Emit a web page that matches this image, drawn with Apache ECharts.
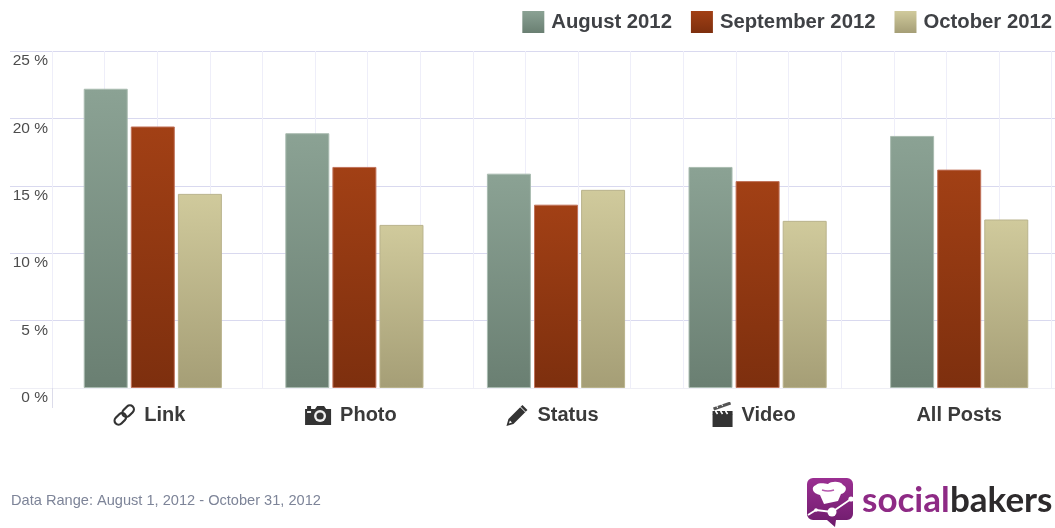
<!DOCTYPE html>
<html><head><meta charset="utf-8">
<style>html,body{margin:0;padding:0;background:#fff;overflow:hidden}#c{width:1055px;height:528px}</style>
<script src="https://cdn.jsdelivr.net/npm/echarts@6/dist/echarts.min.js"></script></head>
<body><div id="c"></div>
<script>
var categories = ['Link','Photo','Status','Video','All Posts'];
var august = [22.2,18.9,15.9,16.4,18.7];
var september = [19.4,16.4,13.6,15.35,16.2];
var october = [14.4,12.1,14.7,12.4,12.5];
var seriesNames = ['August 2012','September 2012','October 2012'];

function svg(w,h,body){return 'data:image/svg+xml;utf8,'+encodeURIComponent('<svg xmlns="http://www.w3.org/2000/svg" width="'+w+'" height="'+h+'" viewBox="0 0 '+w+' '+h+'">'+body+'</svg>');}
var icons = {
 Link: svg(24,24,'<g fill="none" stroke="#333" stroke-width="2.2" transform="rotate(-45 12 12)"><rect x="0" y="8" width="13" height="8" rx="4"/><rect x="11" y="8" width="13" height="8" rx="4"/></g>'),
 Photo: svg(28,24,'<path fill="#333" d="M1 6h2V3h4v3h4l2-3h7l2 3h5v16H1z"/><circle cx="16" cy="13" r="6" fill="#eee"/><circle cx="16" cy="13" r="3.6" fill="#333"/><rect x="3" y="8" width="4" height="2" fill="#eee"/>'),
 Status: svg(24,24,'<path fill="#333" d="M1 23l2-7L17 2l5 5L8 21z"/><path fill="#fff" d="M3.5 20.5l1-3 2 2z"/><path stroke="#fff" stroke-width="1" d="M15 4l5 5"/>'),
 Video: svg(22,26,'<rect x="1" y="12" width="20" height="13" fill="#333"/><rect x="1" y="9" width="20" height="3.4" fill="#333"/><path stroke="#fff" stroke-width="1.6" d="M4 9l2 3M9 9l2 3M14 9l2 3"/><path stroke="#555" stroke-width="3" d="M2 7L19 1"/><path stroke="#fff" stroke-width="1" d="M6 6l-1-3M11 4L10 2"/>')
};
var logo = svg(47,50,'<defs><linearGradient id="g" x1="0" y1="0" x2="0" y2="1"><stop offset="0" stop-color="#9b2f92"/><stop offset="1" stop-color="#6d1b6b"/></linearGradient></defs><path fill="url(#g)" d="M6 0h34a6 6 0 0 1 6 6v30a6 6 0 0 1-6 6H29l-1 7-8-7H6a6 6 0 0 1-6-6V6a6 6 0 0 1 6-6z"/><path fill="#fff" d="M13 17C6 16 3 9 9 7c4-3 9-1 12-1 3-3 13-3 15 1 5 2 3 8-2 9l-3 7-14 3z"/><path stroke="#b65aae" stroke-width="1.4" fill="none" d="M15 12q6 2 12 0"/><path fill="none" stroke="#fff" stroke-width="1.8" d="M1 37l8-5 16 2 19-13"/><circle cx="25" cy="34" r="4.5" fill="#fff"/><circle cx="44" cy="21" r="2.6" fill="#fff"/><circle cx="9" cy="32" r="1.8" fill="#fff"/>');

var rich = {t:{fontFamily:'Liberation Sans',fontWeight:'bold',fontSize:20,lineHeight:26,color:'#3a3a3a'},sp:{width:8,lineHeight:26}};
rich.Link={width:24,height:24,lineHeight:26,backgroundColor:{image:icons.Link}};
rich.Photo={width:28,height:24,lineHeight:26,backgroundColor:{image:icons.Photo}};
rich.Status={width:24,height:24,lineHeight:26,backgroundColor:{image:icons.Status}};
rich.Video={width:22,height:26,lineHeight:26,backgroundColor:{image:icons.Video}};

function grad(a,b){return {type:'linear',x:0,y:0,x2:0,y2:1,colorStops:[{offset:0,color:a},{offset:1,color:b}]};}
function bar(name,data,a,b,border){return {name:name,type:'bar',data:data,barWidth:44,barGap:'7%',xAxisIndex:0,
  itemStyle:{color:grad(a,b),borderColor:border,borderWidth:1},silent:true,animation:false};}

var chart = echarts.init(document.getElementById('c'),null,{renderer:'canvas'});
chart.setOption({
 animation:false,
 backgroundColor:'#fff',
 textStyle:{fontFamily:'Liberation Sans'},
 grid:{left:52,top:51,width:1008,height:337,containLabel:false,outerBoundsMode:'none'},
 legend:{data:seriesNames,top:11,right:3,padding:0,itemWidth:22,itemHeight:22,itemGap:19,icon:'rect',
   itemStyle:{borderWidth:0},
   textStyle:{fontFamily:'Liberation Sans',fontWeight:'bold',fontSize:20.3,color:'#3f4145',padding:[0,0,0,2]}},
 title:{text:'Data Range: August 1, 2012 - October 31, 2012',left:11,top:493,padding:0,
   textStyle:{fontFamily:'Liberation Sans',fontWeight:'normal',fontSize:14.6,color:'#7d8498'}},
 xAxis:[
  {type:'category',data:categories,position:'bottom',
   axisLine:{show:true,lineStyle:{color:'#eeeef5',width:1}},axisTick:{show:false},
   axisLabel:{margin:14,interval:0,formatter:function(v){return icons[v]?'{'+v+'|}{sp|}{t|'+v+'}{sp|}':'{t|'+v+'}';},rich:rich}},
  {type:'value',min:0,max:19.16,interval:1,position:'bottom',axisLine:{show:false},axisTick:{show:false},axisLabel:{show:false},
   splitLine:{show:true,lineStyle:{color:'#eeeef9',width:1}}},
  {type:'value',min:0,max:1,interval:1,position:'bottom',axisLine:{show:false},axisLabel:{show:false},splitLine:{show:false},
   axisTick:{show:true,length:20,lineStyle:{color:'#dcdcea',width:1}}}
 ],
 yAxis:[{type:'value',min:0,max:25,interval:5,
   axisLine:{show:false},
   axisTick:{show:true,length:42,customValues:[5,10,15,20,25],lineStyle:{color:'#d9d9ef',width:1}},
   splitLine:{show:true,showMinLine:true,lineStyle:{color:'#d9d9ef',width:1}},
   axisLabel:{margin:4,verticalAlign:'top',fontFamily:'Liberation Sans',fontSize:15.5,color:'#4d4d4d',formatter:'{value} %',padding:[2,0,0,0]}},
  {type:'value',min:0,max:25,interval:25,position:'left',
   axisLine:{show:false},axisLabel:{show:false},splitLine:{show:false},
   axisTick:{show:true,length:42,customValues:[0],lineStyle:{color:'#eeeef5',width:1}}}],
 series:[
  bar(seriesNames[0],august,'#8ba294','#6a7f72','#a9bbb0'),
  bar(seriesNames[1],september,'#a24015','#7d2f0e','#c0725a'),
  bar(seriesNames[2],october,'#d0ca9c','#a59e76','#b9b38c')
 ],
 graphic:[
  {type:'image',left:807,top:478,style:{image:logo,width:47,height:50},silent:true},
  {type:'text',x:862,y:483,style:{text:'social',fontFamily:'Lato',fontWeight:'bold',fontSize:35,fill:'#8e2a85'},silent:true},
  {type:'text',x:950,y:483,style:{text:'bakers',fontFamily:'Lato',fontWeight:'bold',fontSize:35,fill:'#2d2a2c'},silent:true}
 ]
});
</script></body></html>
